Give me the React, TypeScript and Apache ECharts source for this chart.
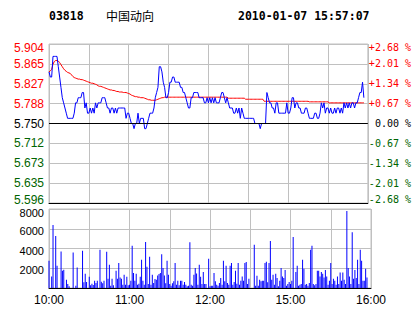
import React, { useEffect, useRef } from "react";
import * as echarts from "echarts";

const stockCode = "03818";
const stockName = "中国动向";
const timestamp = "2010-01-07 15:57:07";
const prevClose = 5.75;

const priceTicks = ["5.596", "5.635", "5.673", "5.712", "5.750", "5.788", "5.827", "5.865", "5.904"];
const pctTicks = ["-2.68 %", "-2.01 %", "-1.34 %", "-0.67 %", " 0.00 %", "+0.67 %", "+1.34 %", "+2.01 %", "+2.68 %"];
const volTicks = ["", "2000", "4000", "6000", "8000"];
const timeTicks = ["10:00", "11:00", "12:00", "15:00", "16:00"];

const price = [
  5.85, 5.84, 5.84, 5.88, 5.88, 5.88, 5.88, 5.86, 5.84, 5.82,
  5.80, 5.79, 5.78, 5.77, 5.76, 5.76, 5.76, 5.76, 5.76, 5.77,
  5.79, 5.79, 5.80, 5.80, 5.80, 5.81, 5.81, 5.78, 5.79, 5.77,
  5.77, 5.78, 5.77, 5.78, 5.77, 5.79, 5.78, 5.79, 5.79, 5.79,
  5.80, 5.80, 5.80, 5.79, 5.78, 5.78, 5.77, 5.78, 5.78, 5.77,
  5.78, 5.77, 5.78, 5.78, 5.78, 5.78, 5.78, 5.78, 5.76, 5.77,
  5.77, 5.76, 5.75, 5.75, 5.74, 5.75, 5.75, 5.77, 5.75, 5.76,
  5.76, 5.76, 5.74, 5.74, 5.75, 5.76, 5.77, 5.77, 5.77, 5.78,
  5.80, 5.81, 5.82, 5.86, 5.86, 5.85, 5.83, 5.82, 5.80, 5.80,
  5.81, 5.83, 5.83, 5.84, 5.84, 5.83, 5.83, 5.83, 5.83, 5.82,
  5.82, 5.81, 5.81, 5.80, 5.79, 5.78, 5.78, 5.80, 5.80, 5.81,
  5.81, 5.81, 5.81, 5.80, 5.80, 5.80, 5.80, 5.79, 5.79, 5.80,
  5.79, 5.80, 5.79, 5.80, 5.79, 5.80, 5.79, 5.79, 5.79, 5.80,
  5.81, 5.81, 5.80, 5.79, 5.80, 5.79, 5.78, 5.78, 5.78, 5.77,
  5.77, 5.78, 5.77, 5.78, 5.76, 5.78, 5.77, 5.76, 5.76, 5.76,
  5.76, 5.76, 5.76, 5.76, 5.76, 5.75, 5.75, 5.75, 5.75, 5.74,
  5.75, 5.75, 5.75, 5.75, 5.81, 5.80, 5.79, 5.79, 5.78, 5.78,
  5.77, 5.79, 5.79, 5.77, 5.77, 5.77, 5.77, 5.77, 5.77, 5.79,
  5.77, 5.77, 5.78, 5.80, 5.80, 5.78, 5.79, 5.79, 5.78, 5.78,
  5.77, 5.77, 5.77, 5.78, 5.78, 5.77, 5.76, 5.76, 5.76, 5.76,
  5.77, 5.77, 5.76, 5.76, 5.77, 5.79, 5.78, 5.79, 5.77, 5.78,
  5.78, 5.77, 5.78, 5.77, 5.77, 5.78, 5.77, 5.78, 5.78, 5.77,
  5.78, 5.77, 5.79, 5.78, 5.79, 5.78, 5.79, 5.78, 5.79, 5.79,
  5.78, 5.79, 5.79, 5.80, 5.81, 5.81, 5.83, 5.80,
];

const avgPrice = [
  5.850, 5.852, 5.855, 5.865, 5.870, 5.872, 5.872, 5.871, 5.868, 5.864,
  5.860, 5.856, 5.853, 5.851, 5.849, 5.848, 5.847, 5.844, 5.841, 5.839,
  5.838, 5.837, 5.836, 5.836, 5.835, 5.835, 5.834, 5.833, 5.832, 5.831,
  5.830, 5.829, 5.828, 5.828, 5.827, 5.826, 5.825, 5.823, 5.822, 5.822,
  5.821, 5.820, 5.819, 5.818, 5.817, 5.816, 5.815, 5.815, 5.814, 5.814,
  5.813, 5.812, 5.812, 5.811, 5.811, 5.811, 5.810, 5.810, 5.810, 5.809,
  5.808, 5.807, 5.805, 5.804, 5.803, 5.802, 5.802, 5.801, 5.801, 5.800,
  5.800, 5.800, 5.799, 5.798, 5.797, 5.796, 5.796, 5.795, 5.795, 5.795,
  5.795, 5.796, 5.797, 5.798, 5.799, 5.800, 5.800, 5.801, 5.801, 5.801,
  5.801, 5.801, 5.801, 5.801, 5.801, 5.801, 5.801, 5.801, 5.801, 5.801,
  5.801, 5.801, 5.801, 5.801, 5.801, 5.801, 5.801, 5.801, 5.801, 5.801,
  5.801, 5.801, 5.801, 5.801, 5.801, 5.801, 5.801, 5.801, 5.801, 5.801,
  5.801, 5.801, 5.801, 5.801, 5.801, 5.801, 5.801, 5.801, 5.801, 5.801,
  5.801, 5.801, 5.801, 5.801, 5.801, 5.799, 5.799, 5.799, 5.799, 5.799,
  5.799, 5.799, 5.799, 5.799, 5.799, 5.799, 5.799, 5.799, 5.797, 5.797,
  5.797, 5.797, 5.797, 5.797, 5.797, 5.797, 5.797, 5.797, 5.797, 5.797,
  5.797, 5.797, 5.793, 5.793, 5.793, 5.793, 5.793, 5.793, 5.793, 5.793,
  5.793, 5.793, 5.793, 5.793, 5.793, 5.793, 5.793, 5.793, 5.793, 5.793,
  5.793, 5.793, 5.793, 5.793, 5.793, 5.793, 5.793, 5.793, 5.793, 5.793,
  5.793, 5.793, 5.793, 5.793, 5.793, 5.793, 5.792, 5.792, 5.792, 5.792,
  5.792, 5.792, 5.792, 5.792, 5.792, 5.792, 5.792, 5.792, 5.792, 5.792,
  5.792, 5.790, 5.790, 5.790, 5.790, 5.790, 5.790, 5.790, 5.790, 5.790,
  5.790, 5.790, 5.790, 5.790, 5.790, 5.790, 5.790, 5.790, 5.790, 5.790,
  5.790, 5.790, 5.790, 5.790, 5.790, 5.790, 5.790, 5.790,
];

const volume = [
  2755, 0, 1176, 6384, 0, 5275, 2251, 0, 0, 3696,
  1747, 1848, 0, 840, 403, 168, 0, 0, 3595, 0,
  235, 2083, 0, 0, 0, 3763, 571, 1445, 605, 0,
  1142, 269, 437, 302, 739, 504, 739, 0, 3864, 638,
  470, 739, 0, 3662, 941, 2352, 235, 941, 269, 0,
  1747, 941, 2520, 1075, 941, 336, 1344, 336, 1142, 269,
  336, 739, 4267, 1512, 739, 1445, 336, 437, 1142, 2856,
  739, 336, 4670, 2150, 403, 3158, 336, 1344, 504, 907,
  840, 1277, 1411, 1512, 3427, 2016, 1277, 470, 2755, 1344,
  403, 235, 470, 672, 2520, 336, 739, 269, 739, 739,
  336, 605, 336, 168, 235, 4637, 336, 235, 1344, 2016,
  1478, 336, 2352, 1142, 403, 1613, 403, 403, 0, 2957,
  168, 235, 235, 1512, 672, 336, 235, 504, 1008, 336,
  2755, 672, 2251, 504, 336, 2251, 2520, 336, 605, 1747,
  437, 2520, 336, 739, 1176, 739, 2520, 2621, 403, 941,
  0, 0, 0, 4368, 235, 1243, 235, 840, 672, 739,
  739, 2520, 2654, 571, 2520, 4771, 840, 1344, 336, 1445,
  1008, 168, 739, 2016, 1176, 1008, 1814, 235, 403, 605,
  403, 739, 5174, 0, 1613, 2251, 235, 336, 403, 2856,
  1949, 336, 403, 235, 504, 3864, 4267, 403, 269, 403,
  1747, 1747, 1176, 1613, 1445, 1075, 1814, 1176, 336, 739,
  2520, 403, 941, 739, 336, 1176, 403, 1579, 739, 1579,
  840, 403, 7795, 2016, 1176, 403, 5645, 941, 1814, 1008,
  2856, 403, 3864, 2755, 739, 739, 1949, 1075,
];

const TOTAL_MINUTES = 240;
const MINUTES_PER_LABEL = 60;
const MINUTES_PER_GRID = 30;

const RED = "#ff0000";
const GREEN = "#006400";
const GRID_GRAY = "#c0c0c0";

export default function App() {
  const ref = useRef<HTMLDivElement>(null);

  useEffect(() => {
    if (!ref.current) return;
    const chart = echarts.init(ref.current, null, { renderer: "svg" });

    const minutes = Array.from({ length: TOTAL_MINUTES + 1 }, (_, i) => String(i));
    const pMin = parseFloat(priceTicks[0]);
    const pMax = parseFloat(priceTicks[priceTicks.length - 1]);
    const pInterval = (pMax - pMin) / (priceTicks.length - 1);
    const mid = (priceTicks.length - 1) / 2;
    const last = priceTicks.length - 1;
    const vMax = parseFloat(volTicks[volTicks.length - 1]);
    const vInterval = vMax / (volTicks.length - 1);

    const idxOf = (v: number) => Math.round((v - pMin) / pInterval);
    // style key: colour by sign, plus edge variants nudged inward like the reference
    const styleKey = (i: number) => {
      const c = i > mid ? "r" : i < mid ? "g" : "k";
      if (i === last) return c + "T";
      if (i === 0) return c + "B";
      return c;
    };

    const leftFont = { fontFamily: "Liberation Sans", fontSize: 12 };
    const monoFont = { fontFamily: "DejaVu Sans Mono", fontSize: 10 };

    const makeRich = (font: object) => ({
      r: { color: RED, ...font },
      g: { color: GREEN, ...font },
      k: { color: "#000", ...font },
      rT: { color: RED, ...font, padding: [7, 0, 0, 0] },
      gB: { color: GREEN, ...font, padding: [0, 0, 7, 0] },
    });

    const splitX = {
      show: true,
      interval: (i: number) => i % MINUTES_PER_GRID === 0,
      lineStyle: { color: GRID_GRAY, width: 1 },
    };

    chart.setOption({
      animation: false,
      backgroundColor: "#ffffff",
      graphic: [
        {
          type: "text",
          x: 49,
          y: 16,
          style: { text: stockCode, font: 'bold 11.5px "DejaVu Sans Mono"', fill: "#000", verticalAlign: "middle" },
        },
        {
          type: "text",
          x: 106,
          y: 15,
          style: { text: stockName, font: '12px "Noto Sans CJK SC"', fill: "#000", verticalAlign: "middle" },
        },
        {
          type: "text",
          x: 238,
          y: 16,
          style: { text: timestamp, font: 'bold 11.5px "DejaVu Sans Mono"', fill: "#000", verticalAlign: "middle" },
        },
      ],
      grid: [
        { left: 49, top: 44, width: 322, height: 159, show: true, borderColor: GRID_GRAY, borderWidth: 1, backgroundColor: "transparent" },
        { left: 49, top: 209, width: 322, height: 79, show: true, borderColor: GRID_GRAY, borderWidth: 1, backgroundColor: "transparent" },
      ],
      xAxis: [
        {
          type: "category",
          gridIndex: 0,
          data: minutes,
          boundaryGap: false,
          axisLine: { show: true, lineStyle: { color: "#000", width: 1 } },
          axisTick: { show: false },
          axisLabel: { show: false },
          splitLine: splitX,
        },
        {
          type: "category",
          gridIndex: 1,
          data: minutes,
          boundaryGap: false,
          axisLine: { show: true, lineStyle: { color: "#000", width: 1 } },
          axisTick: { show: false },
          axisLabel: {
            show: true,
            interval: (i: number) => i % MINUTES_PER_LABEL === 0,
            formatter: (_v: string, i: number) => timeTicks[Math.round(i / MINUTES_PER_LABEL)] ?? "",
            color: "#000",
            margin: 6,
            ...leftFont,
          },
          splitLine: splitX,
        },
      ],
      yAxis: [
        {
          type: "value",
          gridIndex: 0,
          min: pMin,
          max: pMax,
          interval: pInterval,
          axisLine: { show: false },
          axisTick: { show: false },
          splitLine: { show: true, lineStyle: { color: GRID_GRAY, width: 1 } },
          axisLabel: {
            margin: 5,
            formatter: (v: number) => {
              const i = idxOf(v);
              return `{${styleKey(i)}|${priceTicks[i] ?? ""}}`;
            },
            rich: makeRich(leftFont),
          },
        },
        {
          type: "value",
          gridIndex: 0,
          position: "right",
          min: pMin,
          max: pMax,
          interval: pInterval,
          axisLine: { show: false },
          axisTick: { show: false },
          splitLine: { show: false },
          axisLabel: {
            margin: 1,
            formatter: (v: number) => {
              const i = idxOf(v);
              return `{${styleKey(i)}|${pctTicks[i] ?? ""}}`;
            },
            rich: makeRich(monoFont),
          },
        },
        {
          type: "value",
          gridIndex: 1,
          min: 0,
          max: vMax,
          interval: vInterval,
          axisLine: { show: false },
          axisTick: { show: false },
          splitLine: { show: true, lineStyle: { color: GRID_GRAY, width: 1 } },
          axisLabel: {
            margin: 5,
            formatter: (v: number) => {
              const i = Math.round(v / vInterval);
              const t = volTicks[i] ?? "";
              if (!t) return "";
              return i === volTicks.length - 1 ? `{t|${t}}` : `{n|${t}}`;
            },
            rich: {
              n: { color: "#000", fontFamily: "Liberation Sans", fontSize: 11, padding: [4, 0, 0, 0] },
              t: { color: "#000", fontFamily: "Liberation Sans", fontSize: 11, padding: [8, 0, 0, 0] },
            },
          },
        },
      ],
      series: [
        {
          type: "line",
          name: "avg",
          xAxisIndex: 0,
          yAxisIndex: 0,
          data: avgPrice,
          symbol: "none",
          lineStyle: { color: RED, width: 1 },
          silent: true,
        },
        {
          type: "line",
          name: "price",
          xAxisIndex: 0,
          yAxisIndex: 0,
          data: price,
          symbol: "none",
          lineStyle: { color: "#0000ff", width: 1 },
          silent: true,
          markLine: {
            silent: true,
            symbol: ["none", "none"],
            label: { show: false },
            lineStyle: { color: "#000", type: "solid", width: 1 },
            data: [{ yAxis: prevClose }],
          },
        },
        {
          type: "bar",
          name: "volume",
          xAxisIndex: 1,
          yAxisIndex: 2,
          data: volume,
          barWidth: 1,
          itemStyle: { color: "#0000ff" },
          silent: true,
        },
      ],
    });

    return () => chart.dispose();
  }, []);

  return (
    <div
      ref={ref}
      style={{ position: "absolute", left: 0, top: 0, width: 414, height: 314, background: "#fff" }}
    />
  );
}
